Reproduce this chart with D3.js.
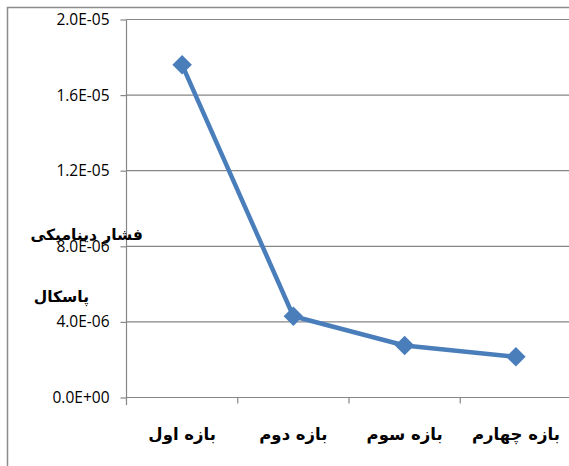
<!DOCTYPE html>
<html>
<head>
<meta charset="utf-8">
<script src="https://cdn.jsdelivr.net/npm/d3@7"></script>
<style>
  body { margin: 0; background: #fff; }
</style>
</head>
<body>
<div id="chart"></div>
<script>
// دسته ها و مقادیر
const categories = ["بازه اول", "بازه دوم", "بازه سوم", "بازه چهارم"];
const values = [1.76e-5, 4.3e-6, 2.75e-6, 2.15e-6];
const yTicks = [0, 4e-6, 8e-6, 1.2e-5, 1.6e-5, 2e-5];
const titleLines = ["فشار دینامیکی", "پاسکال"];

const W = 569, H = 466;
const svg = d3.select("#chart").append("svg")
  .attr("width", W).attr("height", H);

// frame of chart area
svg.append("path")
  .attr("d", `M7.5,${H} L7.5,7.5 L${W},7.5`)
  .attr("fill", "none")
  .attr("stroke", "#8c8c8c")
  .attr("stroke-width", 1.5);

const x = d3.scaleBand().domain(categories).range([126.5, 571.5]);
const y = d3.scaleLinear().domain([0, 2e-5]).range([397.5, 19.5]);

// gridlines
svg.append("g").selectAll("line")
  .data(yTicks)
  .enter().append("line")
    .attr("x1", 126.5).attr("x2", W)
    .attr("y1", d => y(d)).attr("y2", d => y(d))
    .attr("stroke", "#868686").attr("stroke-width", 1.2);

// y axis
const yAxis = svg.append("g")
  .attr("transform", "translate(126.5,0)")
  .call(d3.axisLeft(y).tickValues(yTicks).tickSize(6).tickPadding(11)
    .tickFormat(d => d.toExponential(1).replace(/e([+-])(\d)$/, "E$10$2").toUpperCase()));
yAxis.select(".domain").remove();
yAxis.append("line").attr("x1", 0).attr("x2", 0).attr("y1", 19.5).attr("y2", 405)
  .attr("stroke", "#868686").attr("stroke-width", 1.2);
yAxis.selectAll(".tick line").attr("stroke", "#868686").attr("stroke-width", 1.2);
yAxis.selectAll("text")
  .attr("font-family", "'Open Sans', sans-serif")
  .attr("font-size", 15.5).attr("fill", "#000");

// x axis
const xAxis = svg.append("g")
  .attr("transform", "translate(0,397.5)")
  .call(d3.axisBottom(x).tickSize(0).tickPadding(31));
xAxis.select(".domain").remove();
xAxis.selectAll("text")
  .attr("font-family", "'DejaVu Sans', sans-serif")
  .attr("font-weight", "bold")
  .attr("font-size", 16.5).attr("fill", "#000");
// category boundary ticks
xAxis.selectAll(".sep")
  .data(categories.slice(1).concat(["_end"]))
  .enter().append("line")
    .attr("x1", (d, i) => x.range()[0] + x.step() * (i + 1))
    .attr("x2", (d, i) => x.range()[0] + x.step() * (i + 1))
    .attr("y1", 0).attr("y2", 6)
    .attr("stroke", "#868686").attr("stroke-width", 1.2);

// series line
const pts = categories.map((c, i) => [x(c) + x.bandwidth() / 2, y(values[i])]);
svg.append("path")
  .datum(pts)
  .attr("d", d3.line())
  .attr("fill", "none")
  .attr("stroke", "#4a7ebb")
  .attr("stroke-width", 4.5)
  .attr("stroke-linejoin", "round");

// diamond markers
svg.selectAll(".marker")
  .data(pts)
  .enter().append("path")
    .attr("class", "marker")
    .attr("d", d3.symbol().type(d3.symbolSquare).size(190))
    .attr("transform", d => `translate(${d[0]},${d[1]}) rotate(45)`)
    .attr("fill", "#4a7ebb");

// y title (two lines)
svg.append("text")
  .attr("x", 143).attr("y", 240)
  .attr("text-anchor", "end")
  .attr("font-family", "'DejaVu Sans', sans-serif")
  .attr("font-weight", "bold").attr("font-size", 15.5)
  .text(titleLines[0]);
svg.append("text")
  .attr("x", 89).attr("y", 302)
  .attr("text-anchor", "end")
  .attr("font-family", "'DejaVu Sans', sans-serif")
  .attr("font-weight", "bold").attr("font-size", 15.5)
  .text(titleLines[1]);
</script>
</body>
</html>
